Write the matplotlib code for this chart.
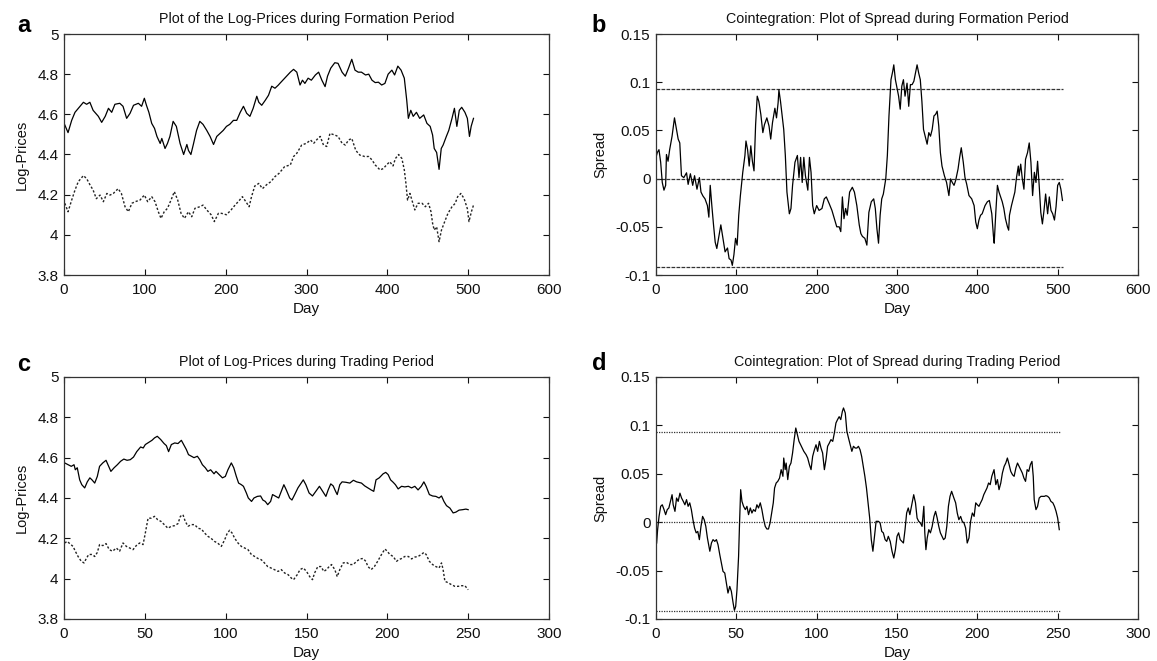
import numpy as np
import matplotlib
matplotlib.use("Agg")
import matplotlib.pyplot as plt

plt.rcParams['font.family'] = ['Liberation Sans', 'DejaVu Sans']

# ---- data: (day, value) ----
# formation period, log prices of the two stocks
form_stock1 = [(1,4.547),(5,4.509),(9.5,4.57),(13.6,4.61),(17.7,4.63),(24,4.66),(28,4.65),(32,4.66),(36,4.62),(42.5,4.59),
    (46.6,4.56),(51,4.59),(55,4.63),(59,4.61),(63,4.65),(69,4.655),(73,4.64),(77.5,4.58),(81.7,4.605),(86,4.645),
    (92,4.655),(96,4.64),(99.4,4.68),(102,4.645),(105,4.61),(108.5,4.555),(112,4.53),(115,4.49),(119,4.455),(121,4.48),
    (125,4.43),(128,4.455),(131,4.49),(135,4.565),(139,4.54),(143.6,4.455),(148,4.40),(152,4.45),(154,4.42),(157,4.40),
    (160,4.45),(164,4.52),(168,4.565),(172,4.55),(176.6,4.52),(180.7,4.49),(185,4.45),(189,4.49),(193,4.505),(197,4.52),
    (201,4.54),(205,4.55),(209.6,4.57),(213.7,4.57),(218,4.61),(222,4.64),(226,4.605),(230,4.59),(234,4.63),(238.5,4.69),
    (241,4.66),(244.6,4.645),(249,4.67),(253,4.695),(257,4.74),(261,4.73),(265,4.745),
    (267,4.754),(273,4.78),(280,4.81),(284,4.824),(288,4.81),(292,4.746),(295,4.77),(298,4.754),(302,4.78),(306,4.77),
    (311,4.796),(315,4.81),(319,4.77),(323,4.738),(326,4.79),(330,4.83),(335,4.857),(339,4.854),(344,4.81),(348,4.79),
    (352,4.83),(356,4.874),(360,4.82),(364,4.81),(368,4.81),(373,4.796),(377,4.80),(381,4.77),(385,4.758),(389,4.76),
    (393,4.746),(397,4.754),(401,4.80),(405.6,4.82),(409,4.796),(413,4.84),(417,4.82),(421,4.78),(424,4.67),(426,4.58),
    (429,4.62),(432,4.59),(436,4.61),(440,4.58),(445,4.597),(449,4.555),(453,4.54),(456,4.497),(458,4.43),(461,4.41),
    (464,4.326),(466.7,4.43),(469,4.447),(473,4.49),(476,4.52),(480,4.58),(483,4.63),(486,4.54),(489,4.62),(492,4.635),
    (496,4.61),(499,4.58),(501.6,4.49),(503.7,4.54),(506.6,4.58)]

form_stock2 = [(1,4.157),(5,4.115),(9.5,4.173),(13.6,4.223),(17.7,4.265),(24,4.295),(28,4.28),(32,4.25),(36,4.223),(40,4.18),
    (44.6,4.198),(48.7,4.165),(53,4.206),(57,4.198),(61,4.206),(67,4.23),(71,4.206),(75.5,4.14),(79.6,4.115),(84,4.157),
    (88,4.165),(94,4.173),(99.4,4.198),(103.5,4.165),(108.5,4.19),(112.6,4.165),(116.7,4.115),(120,4.082),(124,4.115),(128,4.132),
    (132.4,4.173),(136.5,4.215),(140.7,4.173),(144.8,4.107),(149,4.082),(154,4.115),(158,4.09),(162,4.132),(168,4.14),(172,4.148),
    (176.6,4.124),(182,4.10),(186,4.066),(191,4.107),(195,4.107),(201,4.10),(206.7,4.124),(211.6,4.148),(216.6,4.17),(220.7,4.19),
    (225,4.165),(229,4.14),(232,4.19),(236,4.243),(241,4.256),(245.5,4.23),(250.8,4.25),(256,4.265),(261,4.29),(266,4.306),
    (273,4.34),(280,4.348),(284,4.39),(288,4.406),(294,4.447),(300,4.456),(305,4.472),(309,4.456),(313,4.475),(317,4.49),
    (321,4.447),(325,4.44),(329,4.505),(335,4.497),(339,4.49),(344,4.456),(348,4.447),(352,4.472),(356,4.48),(361,4.42),
    (366,4.397),(372,4.39),(377,4.39),(381,4.373),(385,4.348),(391,4.323),(395,4.33),(399,4.348),(403,4.364),(407,4.343),
    (410,4.38),(414,4.40),(418,4.38),(421,4.323),(423,4.256),(425,4.173),(428,4.206),(431,4.165),(434,4.124),(438,4.157),
    (443,4.157),(447,4.14),(451,4.157),(454,4.115),(456,4.057),(458,4.024),(461,4.04),(464,3.966),(467,4.024),(471,4.066),
    (475,4.107),(480,4.14),(484,4.157),(487,4.19),(491,4.206),(495,4.18),(499,4.13),(501,4.066),(504,4.115),(506.6,4.148)]

form_spread = [(0,0.022),(1.6,0.027),(3.7,0.030),(5.8,0.017),(7.8,-0.004),(9.9,-0.012),(12,-0.007),(13,0.025),(15,0.018),(17,0.030),
    (20,0.044),(23,0.063),(25.5,0.051),(27.6,0.041),(29.6,0.037),(31.7,0.003),(34.6,0.001),(38,0.006),(40,-0.006),(42.8,0.005),
    (45.7,-0.007),(48,0.003),(51,-0.011),(54,0.001),(56,-0.014),(58.4,-0.018),(61,-0.021),(64,-0.028),(65.8,-0.040),(67.5,-0.007),
    (69.5,-0.028),(71.6,-0.048),(73.7,-0.066),(75.7,-0.0725),(77.8,-0.062),(80.7,-0.048),(83,-0.060),(86,-0.076),(89,-0.072),(91,-0.083),
    (93.4,-0.0845),(95,-0.090),(97,-0.079),(99,-0.062),(101,-0.069),(103,-0.038),(105,-0.018),(108,0.0065),(110.7,0.024),(112,0.039),
    (114,0.030),(116,0.013),(118,0.034),(120,0.018),(122,0.008),(124,0.056),(126,0.0855),(128,0.080),(130.5,0.0666),(133,0.0477),
    (135,0.056),(138,0.063),(140.7,0.0545),(142.8,0.041),(145,0.058),(148,0.073),(150,0.063),(152,0.0786),(153,0.092),(155,0.080),
    (157,0.065),(159,0.051),(161,0.024),(163,-0.014),(166,-0.0365),(168,-0.031),(170,-0.007),(173,0.017),(176,0.024),(178,0.001),
    (180,0.022),(182,-0.004),(184,0.022),(186,0.003),(189,-0.012),(191,0.022),(193,0.0065),(195,-0.028),(197,-0.0365),(200,-0.028),
    (203,-0.033),(206.6,-0.031),(209.5,-0.021),(212,-0.019),(215.6,-0.026),(219,-0.033),(222,-0.0416),(225,-0.050),(228,-0.050),(230,-0.055),
    (232,-0.019),(234,-0.0416),(236,-0.031),(238,-0.038),(241,-0.014),(244.4,-0.009),(247,-0.014),(250,-0.028),(253,-0.048),(255,-0.057),
    (257,-0.060),(260,-0.062),(262.5,-0.069),(265,-0.035),(268,-0.024),(271,-0.021),(273,-0.031),(275,-0.052),(277,-0.067),(279,-0.038),
    (281,-0.021),(283,-0.016),(286,-0.0003),(288,0.024),(290,0.065),(292.5,0.1026),(294.6,0.111),(296,0.118),(298,0.1026),(300,0.094),
    (302,0.0855),(304,0.072),(306,0.096),(308,0.1026),(310,0.0855),(312.5,0.099),(314.6,0.075),(316.7,0.0975),(318.8,0.0975),(321,0.101),
    (323,0.1095),(325,0.118),(327,0.1095),(329,0.1026),(331,0.080),(333,0.051),(335,0.044),(337.5,0.0357),(339.6,0.0477),(341.7,0.044),
    (343.8,0.051),(346,0.065),(348,0.0666),(350,0.070),(352,0.0545),(354,0.027),(356,0.013),(359,0.003),(361.7,-0.004),(364.6,-0.0176),
    (366.7,-0.0003),(368.8,-0.004),(371,-0.007),(373,-0.002),(376,0.010),(378,0.022),(380,0.032),(382.5,0.017),(384.6,0.0013),(386.7,-0.0056),
    (389.6,-0.0176),(393,-0.021),(396,-0.028),(398,-0.045),(400,-0.052),(402,-0.043),(404,-0.038),(406,-0.0365),(409.6,-0.028),(412.5,-0.024),
    (415,-0.0227),(418,-0.0365),(420,-0.059),(421,-0.067),(423,-0.035),(425,-0.007),(427,-0.014),(429,-0.019),(431,-0.024),(433,-0.031),
    (435,-0.0416),(437.5,-0.050),(439,-0.0535),(440,-0.038),(442.5,-0.028),(444.6,-0.021),(446.7,-0.014),(448.8,0.0013),(451,0.013),(452,0.003),
    (454,0.015),(456,-0.0003),(458,-0.011),(460,0.020),(462.5,0.027),(464.6,0.037),(466.7,0.017),(468.8,-0.0176),(471,0.0065),(473,-0.004),
    (475,0.018),(477,-0.007),(479,-0.035),(481,-0.047),(483,-0.033),(485,-0.016),(487.5,-0.0365),(489.6,-0.019),(491.7,-0.033),(493.8,-0.0365),
    (496,-0.043),(498,-0.029),(500,-0.007),(502,-0.004),(504,-0.011),(506,-0.0227)]

# trading period
trade_stock1 = [(0.4,4.574),(2.5,4.565),(4.5,4.557),(6.2,4.565),(7,4.54),(8.2,4.55),(9.7,4.49),(11,4.466),(12.8,4.45),(14.4,4.48),
    (16,4.50),(17.3,4.49),(19,4.474),(20.6,4.507),(22,4.557),(24,4.574),(26,4.587),(27.6,4.557),(29,4.532),(31,4.55),
    (33,4.565),(35,4.582),(37,4.593),(39,4.587),(41,4.59),(43,4.603),(45,4.63),(47.4,4.653),(49,4.648),(50.3,4.665),
    (52.4,4.676),(54.4,4.686),(56,4.698),(57.7,4.706),(59.8,4.69),(61.9,4.67),(63.3,4.66),(64.7,4.63),(66.4,4.665),(68.5,4.673),
    (70.5,4.67),(72.6,4.686),(74,4.665),(75.7,4.64),(77,4.615),(78.8,4.607),(80.4,4.60),(82.5,4.607),(84,4.59),(85.6,4.565),
    (87.4,4.55),(89,4.532),(90.7,4.54),(92.8,4.52),(94,4.532),(96,4.516),(98,4.50),(99.8,4.507),(101.4,4.54),(103.5,4.574),
    (105,4.55),(106.6,4.507),(108,4.474),(109.7,4.466),(111,4.458),(112.8,4.425),(114,4.40),(116,4.383),(117.5,4.40),(119.6,4.408),
    (121.6,4.41),(123,4.39),(124.5,4.383),(126,4.367),(127.8,4.383),(129,4.417),(131,4.408),(132.8,4.40),(134.4,4.433),(136,4.466),
    (137.5,4.44),(139.6,4.40),(141,4.39),(142.7,4.417),(144.7,4.45),(146,4.466),(148,4.49),(149.6,4.466),(151.6,4.425),(153.7,4.41),
    (155.8,4.433),(158,4.458),(160,4.433),(162,4.408),(163.4,4.44),(165,4.47),(166.5,4.46),(168,4.433),(169,4.417),(170.6,4.466),
    (172,4.48),(174.3,4.478),(176.8,4.474),(179,4.488),(181,4.48),(184,4.474),(186,4.46),(188,4.45),(190,4.44),(191.6,4.433),
    (193,4.49),(195,4.50),(197.4,4.52),(199,4.527),(200.5,4.516),(202,4.49),(203.6,4.478),(205,4.466),(206.7,4.445),(208.8,4.458),
    (210.8,4.455),(213,4.458),(215,4.45),(217,4.458),(219,4.44),(221,4.458),(222.6,4.48),(224,4.458),(226,4.417),(228,4.41),
    (230,4.408),(232,4.40),(233.5,4.41),(235,4.383),(236.6,4.362),(238.7,4.35),(240.7,4.326),(242.4,4.33),(244.4,4.34),(246.5,4.342),
    (248.6,4.345),(250,4.342)]

trade_stock2 = [(0.4,4.177),(2,4.185),(3.5,4.174),(5.6,4.16),(7,4.136),(8.7,4.11),(10.7,4.086),(12.4,4.078),(13.8,4.10),(15.3,4.12),
    (17.3,4.12),(19,4.11),(20.6,4.13),(22,4.169),(24,4.164),(26,4.174),(28,4.144),(30,4.136),(32.4,4.152),(34.4,4.136),
    (36.5,4.177),(38.6,4.16),(40.6,4.152),(42.7,4.144),(44.7,4.164),(46.8,4.177),(48.9,4.169),(50.3,4.226),(52,4.30),(54,4.30),
    (56,4.309),(58,4.292),(60,4.284),(62,4.268),(64.3,4.25),(66.4,4.26),(68.5,4.263),(70.5,4.273),(72,4.309),(73.6,4.317),
    (75,4.284),(76.7,4.26),(78.8,4.268),(80.8,4.268),(82.9,4.25),(85,4.246),(87,4.226),(89,4.21),(91,4.20),(93,4.185),
    (95,4.177),(97.3,4.16),(99.4,4.193),(101,4.226),(102.5,4.24),(104,4.226),(105.6,4.20),(107.6,4.177),(109.7,4.16),(111.8,4.152),
    (113.8,4.144),(115.9,4.12),(118,4.11),(120,4.10),(122,4.094),(124,4.078),(126,4.06),(128,4.053),(130,4.045),(132.4,4.036),
    (134.4,4.045),(136.5,4.028),(138.6,4.02),(140.6,4.003),(142,3.995),(144.3,4.02),(146,4.045),(148,4.053),(150,4.036),(152,4.01),
    (153.7,3.995),(155,4.028),(157,4.06),(159,4.06),(160.7,4.036),(162.4,4.045),(164,4.06),(165.5,4.07),(167.5,4.045),(169,4.01),
    (170.6,4.045),(172.7,4.078),(174.7,4.081),(176.8,4.07),(178.9,4.07),(181,4.086),(183,4.098),(185,4.10),(186.7,4.086),(188,4.06),
    (190,4.045),(192,4.06),(194,4.086),(196.4,4.12),(198.5,4.147),(200,4.136),(201.5,4.12),(203.6,4.11),(205.7,4.086),(207,4.094),
    (208.8,4.10),(210.8,4.11),(213,4.11),(215,4.098),(217,4.107),(219,4.11),(221,4.12),(222.6,4.13),(224,4.12),(226,4.086),
    (228,4.07),(230,4.06),(232,4.053),(233.5,4.078),(234.5,4.045),(235.6,3.987),(237.6,3.98),(239.7,3.97),(241.8,3.962),(243.8,3.962),
    (245.9,3.965),(248,3.965),(250,3.945)]

trade_spread = [(0.4,-0.0215),(1,-0.0077),(1.9,0.006),(2.9,0.0164),(3.9,0.018),(5,0.013),(6,0.0078),(7,0.013),(8,0.0147),(9,0.0215),
    (10,0.0284),(10.7,0.018),(11.8,0.0112),(12.8,0.025),(13.8,0.0215),(14.9,0.030),(15.9,0.025),(17,0.0215),(18,0.018),(19,0.0233),
    (20,0.0164),(21,0.020),(22,0.013),(23,0.0026),(24,-0.006),(25,-0.011),(26,-0.0095),(27,-0.018),(28,-0.0043),(29,0.006),
    (30,0.0026),(31,-0.0043),(32,-0.0163),(33.5,-0.030),(34.5,-0.0215),(35.5,-0.018),(36.6,-0.0198),(37.6,-0.018),(38.6,-0.0232),(39.7,-0.0336),
    (40.7,-0.042),(41.7,-0.0508),(42.8,-0.0525),(43.8,-0.0628),(44.8,-0.0732),(45.9,-0.0663),(46.9,-0.0714),(48,-0.0835),(48.8,-0.091),(49.6,-0.087),
    (50.4,-0.0697),(51.4,-0.0353),(52,-0.0008),(52.7,0.0336),(53.5,0.0215),(54.5,0.0164),(55.6,0.013),(56.6,0.0164),(57.6,0.0078),(58.7,0.0147),
    (59.7,0.0095),(60.7,0.013),(61.8,0.0112),(62.8,0.018),(63.8,0.0147),(64.9,0.020),(65.9,0.013),(67,0.0026),(68,-0.0043),(69,-0.007),
    (70,-0.007),(71,-0.0008),(72,0.0095),(73,0.020),(73.8,0.0353),(74.8,0.0405),(75.8,0.0422),(76.9,0.0456),(77.9,0.0543),(79,0.0474),
    (79.5,0.0663),(80.4,0.0543),(81,0.0611),(82,0.044),(83,0.0577),(84,0.0611),(85,0.0715),(86,0.0853),(87,0.0973),(88,0.0904),
    (89,0.0835),(90,0.080),(91,0.0766),(92,0.0732),(93.4,0.0698),(94.4,0.0663),(95.5,0.0594),(96.5,0.0543),(97.5,0.068),(98.6,0.0749),
    (99.6,0.080),(100.6,0.0732),(101.7,0.0835),(102.7,0.0766),(103.7,0.0715),(104.8,0.0543),(105.8,0.0646),(106.8,0.0784),(107.9,0.0818),(108.9,0.0853),
    (110,0.0835),(111,0.0921),(112,0.1025),(113,0.106),(114,0.109),(115,0.106),(116,0.1145),(116.7,0.118),(117.8,0.1128),(118.8,0.0939),
    (119.8,0.087),(120.9,0.080),(121.9,0.0732),(122.9,0.0784),(124,0.0766),(125,0.0766),(126,0.0784),(127,0.0749),(128,0.068),(129,0.0577),
    (130,0.0474),(131,0.0353),(132,0.020),(133,0.0043),(134,-0.018),(135,-0.030),(136,-0.0146),(137,0.0009),(138.4,0.0009),(139.5,-0.0008),
    (140.5,-0.0095),(141.5,-0.011),(142.6,-0.018),(143.6,-0.0198),(144.6,-0.0146),(145.8,-0.020),(146.9,-0.030),(148,-0.037),(149,-0.0284),(150,-0.0146),
    (151,-0.011),(152,-0.018),(153,-0.0198),(154,-0.0215),(155,-0.0077),(156,0.0095),(157,0.0147),(158,0.0078),(159.4,0.020),(160.4,0.0284),
    (161.5,0.020),(162.5,0.0043),(163.5,0.0009),(164.6,-0.0008),(165.6,-0.0043),(166.7,0.0164),(167.3,-0.011),(168,-0.0284),(168.8,-0.0163),(169.8,-0.0077),
    (170.8,-0.011),(171.9,-0.0043),(173,0.006),(174,0.0112),(175,0.0043),(176,-0.0043),(177,-0.011),(178,-0.0146),(179,-0.018),(180,-0.0163),
    (181,-0.0043),(182,0.0164),(183,0.0267),(184,0.0319),(185.4,0.025),(186.5,0.020),(187.5,0.0095),(188.5,0.0026),(189.6,0.006),(190.6,0.0009),
    (191.7,-0.0008),(192.7,-0.006),(193.7,-0.0215),(194.8,-0.0163),(195.8,0.0009),(196.9,0.0095),(198,0.006),(199,0.020),(200,0.018),(201,0.0164),
    (202,0.020),(203,0.0233),(204,0.0284),(205,0.0319),(206,0.0353),(207,0.0405),(208,0.0388),(209,0.0474),(210.4,0.0543),(211.5,0.0388),
    (212.5,0.044),(213.5,0.0336),(214.6,0.0405),(215.6,0.0508),(216.7,0.0577),(217.7,0.0611),(218.7,0.0663),(219.8,0.0594),(220.8,0.0525),(221.9,0.049),
    (222.9,0.0474),(224,0.056),(225,0.0611),(226,0.0577),(227,0.0543),(228,0.0508),(229,0.0456),(230,0.0422),(231,0.0543),(232,0.0525),
    (233,0.0594),(234,0.0628),(234.8,0.0474),(235.4,0.0233),(236.5,0.013),(237.5,0.0164),(238.5,0.025),(239.6,0.0267),(240.6,0.0267),(241.7,0.0267),
    (242.7,0.0274),(243.8,0.0267),(244.8,0.025),(245.8,0.0215),(247,0.020),(248,0.0164),(249,0.0112),(250,0.0043),(251,-0.0077)]

# trading bands on the spread (mean and +/- threshold), and where they end
band_levels = [0.093, 0.0, -0.092]
form_band_end = 507
trade_band_end = 252

titles = ['Plot of the Log-Prices during Formation Period',
          'Cointegration: Plot of Spread during Formation Period',
          'Plot of Log-Prices during Trading Period',
          'Cointegration: Plot of Spread during Trading Period']
letters = ['a', 'b', 'c', 'd']

W, H = 1157, 661
fig = plt.figure(figsize=(W / 100, H / 100), dpi=100)

def box(x0, y0, x1, y1):
    # pixel box -> figure fraction
    return [x0 / W, 1 - y1 / H, (x1 - x0) / W, (y1 - y0) / H]

ax_a = fig.add_axes(box(64, 34, 549, 275))
ax_b = fig.add_axes(box(656, 34, 1138, 275))
ax_c = fig.add_axes(box(64, 377, 549, 619))
ax_d = fig.add_axes(box(656, 377, 1138, 619))

def style(ax, title, xmax, xstep, ylim, ystep, ylabel):
    ax.set_xlim(0, xmax)
    ax.set_xticks(np.arange(0, xmax + 1, xstep))
    yt = np.round(np.arange(ylim[0], ylim[1] + 1e-9, ystep), 3)
    ax.set_ylim(*ylim)
    ax.set_yticks(yt)
    ax.set_yticklabels(['%g' % v for v in yt])
    ax.tick_params(direction='in', top=True, right=True, length=4, width=0.8,
                   labelsize=11, pad=4, colors='#111111')
    ax.tick_params(axis='x', pad=6)
    for s in ax.spines.values():
        s.set_linewidth(0.9)
        s.set_color('#333333')
    ax.set_title(title, fontsize=10.3, pad=8, color='#111111')
    ax.set_xlabel('Day', fontsize=11, labelpad=3, color='#111111')
    ax.set_ylabel(ylabel, fontsize=10.5, labelpad=6, color='#111111')

def plot_series(ax, pairs, **kw):
    arr = np.array(pairs)
    ax.plot(arr[:, 0], arr[:, 1], **kw)

solid = dict(color='black', lw=0.9)
dotted = dict(color='#222222', lw=1.0, linestyle=(0, (1.6, 1.4)))

plot_series(ax_a, form_stock1, **solid)
plot_series(ax_a, form_stock2, **dotted)
style(ax_a, titles[0], 600, 100, (3.8, 5.0), 0.2, 'Log-Prices')

for lev in band_levels:
    ax_b.plot([0, form_band_end], [lev, lev], color='#333333', lw=0.9, linestyle=(0, (3, 1)))
plot_series(ax_b, form_spread, **solid)
style(ax_b, titles[1], 600, 100, (-0.1, 0.15), 0.05, 'Spread')

plot_series(ax_c, trade_stock1, **solid)
plot_series(ax_c, trade_stock2, **dotted)
style(ax_c, titles[2], 300, 50, (3.8, 5.0), 0.2, 'Log-Prices')

for lev in band_levels:
    ax_d.plot([0, trade_band_end], [lev, lev], color='#333333', lw=0.9, linestyle=(0, (1, 1)))
plot_series(ax_d, trade_spread, **solid)
style(ax_d, titles[3], 300, 50, (-0.1, 0.15), 0.05, 'Spread')

letter_pos = [(24, 25), (599, 25), (24, 364), (599, 363)]
for (px, py), t in zip(letter_pos, letters):
    fig.text(px / W, 1 - py / H, t, fontsize=17, fontweight='bold', ha='center', va='center')

fig.savefig('out.png', dpi=100)
